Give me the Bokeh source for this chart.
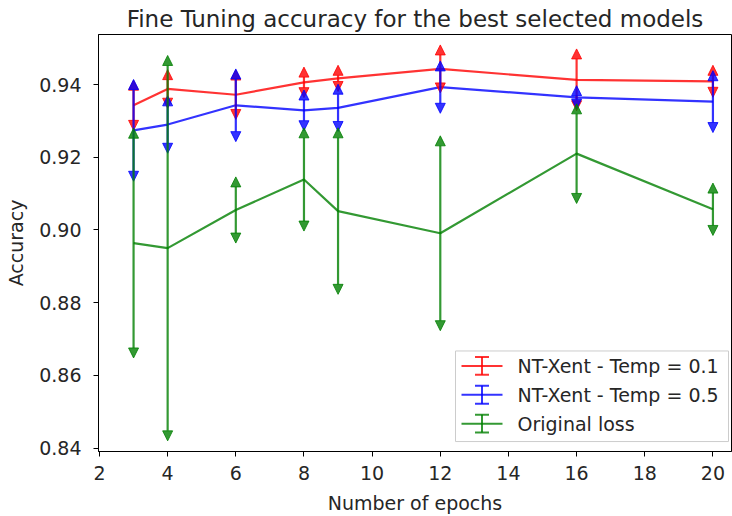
from bokeh.plotting import figure
from bokeh.models import (Range1d, FixedTicker, PrintfTickFormatter, Arrow,
                          NormalHead, ColumnDataSource)
from bokeh.core.properties import value
from bokeh.embed import file_html
from bokeh.resources import INLINE

# Fine-tuning accuracy (mean and spread) per number of pre-training epochs
epochs = [3, 4, 6, 8, 9, 12, 16, 20]

acc_temp01 = [0.9343, 0.9388, 0.9372, 0.9406, 0.9417, 0.9443, 0.9413, 0.9409]
err_temp01 = [0.0069, 0.0053, 0.0068, 0.0042, 0.0036, 0.0066, 0.0085, 0.0044]

acc_temp05 = [0.9274, 0.9290, 0.9343, 0.9329, 0.9336, 0.9393, 0.9365, 0.9353]
err_temp05 = [0.0140, 0.0079, 0.0100, 0.0056, 0.0065, 0.0072, 0.0032, 0.0085]

acc_orig = [0.8964, 0.8950, 0.9055, 0.9139, 0.9052, 0.8991, 0.9210, 0.9057]
err_orig = [0.0316, 0.0530, 0.0091, 0.0142, 0.0229, 0.0268, 0.0137, 0.0072]

series_labels = ["NT-Xent - Temp = 0.1", "NT-Xent - Temp = 0.5", "Original loss"]
series_colors = ["#ff0000", "#0000ff", "#008000"]

x_ticks = [2, 4, 6, 8, 10, 12, 14, 16, 18, 20]
y_ticks = [0.84, 0.86, 0.88, 0.90, 0.92, 0.94]

FONT = "DejaVu Sans"
TXT = "#262626"
ALPHA = 0.8
LABEL_SIZE = "19px"

FRAME_W, FRAME_H = 633, 419

p = figure(width=732, height=516, output_backend="svg", toolbar_location=None,
           x_range=Range1d(1.971, 20.545), y_range=Range1d(0.83907, 0.95377),
           min_border_left=98, min_border_right=1,
           min_border_top=34, min_border_bottom=63,
           title="Fine Tuning accuracy for the best selected models")

p.background_fill_color = "white"
p.border_fill_color = "white"
p.outline_line_color = "black"
p.outline_line_width = 1
p.xgrid.visible = False
p.ygrid.visible = False

p.title.text_font = FONT
p.title.text_font_size = "23px"
p.title.text_font_style = "normal"
p.title.text_color = TXT
p.title.align = "center"
p.title.standoff = 5
p.title.offset = 0

p.xaxis.ticker = FixedTicker(ticks=x_ticks)
p.yaxis.ticker = FixedTicker(ticks=y_ticks)
p.yaxis.formatter = PrintfTickFormatter(format="%.2f")
p.xaxis.axis_label = "Number of epochs"
p.yaxis.axis_label = "Accuracy"

for ax in (p.xaxis, p.yaxis):
    ax.axis_line_color = "black"
    ax.axis_line_width = 1
    ax.major_tick_line_color = "black"
    ax.major_tick_out = 5
    ax.major_tick_in = 0
    ax.minor_tick_out = 0
    ax.minor_tick_in = 0
    ax.major_label_text_font = FONT
    ax.major_label_text_font_size = LABEL_SIZE
    ax.major_label_text_color = TXT
    ax.axis_label_text_font = FONT
    ax.axis_label_text_font_size = LABEL_SIZE
    ax.axis_label_text_font_style = "normal"
    ax.axis_label_text_color = TXT

p.xaxis.major_label_standoff = 9
p.xaxis.axis_label_standoff = 9
p.yaxis.major_label_standoff = 12
p.yaxis.axis_label_standoff = 9

series = [(acc_temp01, err_temp01), (acc_temp05, err_temp05), (acc_orig, err_orig)]

for (acc, err), color in zip(series, series_colors):
    lo = [a - e for a, e in zip(acc, err)]
    hi = [a + e for a, e in zip(acc, err)]
    src = ColumnDataSource(dict(x=epochs, acc=acc, lo=lo, hi=hi))
    p.line("x", "acc", source=src, line_color=color, line_width=2.2, line_alpha=ALPHA)
    head = dict(size=10, fill_color=color, line_color=color,
                fill_alpha=ALPHA, line_alpha=ALPHA, line_width=1)
    p.add_layout(Arrow(start=NormalHead(**head), end=NormalHead(**head),
                       x_start="x", y_start="lo", x_end="x", y_end="hi",
                       source=src, line_color=color, line_width=2.2,
                       line_alpha=ALPHA, level="glyph"))

# Legend drawn in frame pixel space
p.extra_x_ranges = {"px": Range1d(0, FRAME_W)}
p.extra_y_ranges = {"px": Range1d(0, FRAME_H)}
LX0, LX1, LY0, LY1 = 357, 630, 10, 101
p.quad(left=LX0, right=LX1, bottom=LY0, top=LY1, x_range_name="px", y_range_name="px",
       fill_color="white", fill_alpha=0.8, line_color="#cccccc", line_width=1)

row_y = [86, 57, 28]
hx0, hx1 = 363, 404
hxc = (hx0 + hx1) / 2
for label, color, ry in zip(series_labels, series_colors, row_y):
    p.segment(x0=[hx0, hxc, hxc - 7, hxc - 7], x1=[hx1, hxc, hxc + 7, hxc + 7],
              y0=[ry, ry - 9, ry - 9, ry + 9], y1=[ry, ry + 9, ry - 9, ry + 9],
              x_range_name="px", y_range_name="px",
              line_color=color, line_width=2, line_alpha=ALPHA)
    p.text(x=[419], y=[ry], text=[label], x_range_name="px", y_range_name="px",
           text_font=value(FONT), text_font_size=LABEL_SIZE, text_color=TXT,
           text_baseline="middle", text_align="left")

open("out.html", "w").write(file_html(p, INLINE))
